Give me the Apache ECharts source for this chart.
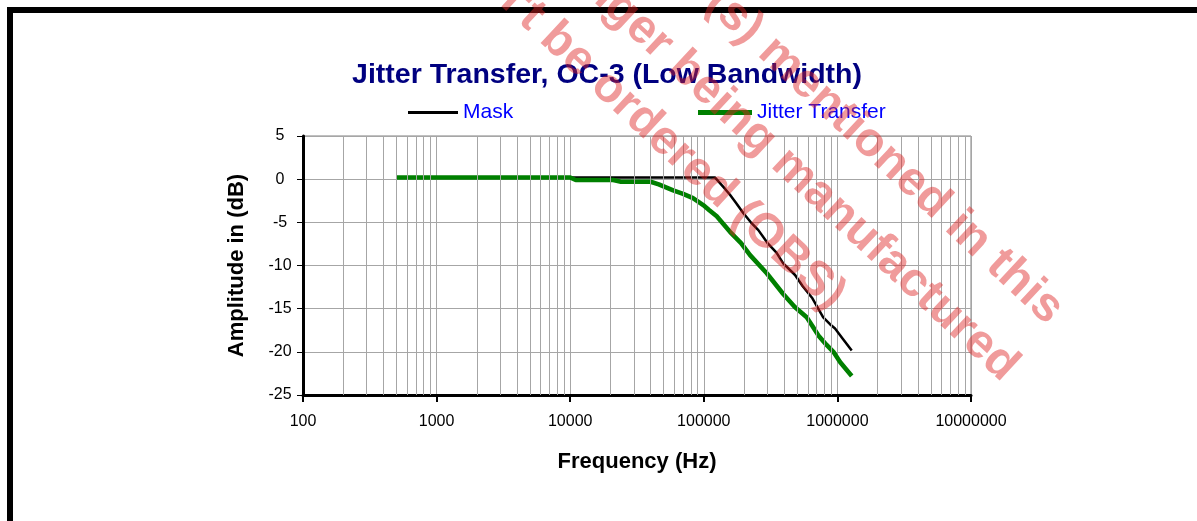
<!DOCTYPE html>
<html>
<head>
<meta charset="utf-8">
<title>Jitter Transfer, OC-3 (Low Bandwidth)</title>
<script src="https://cdn.jsdelivr.net/npm/echarts@6/dist/echarts.min.js"></script>
<style>
	html, body { margin: 0; padding: 0; background: #fff; }
	#chart { width: 1197px; height: 521px; }
</style>
</head>
<body>
<div id="chart"></div>
<script>
// values (Hz, dB)
var maskFreq = [500, 1000, 10000, 100000, 121000, 140000, 157000, 175000, 198000, 225000, 256000, 300000, 350000, 393000, 482000, 550000, 650000, 783000, 880000, 960000, 1100000, 1280000];
var maskDb = [0.2, 0.2, 0.2, 0.2, 0.2, -0.9, -1.8, -2.8, -3.95, -5.0, -5.9, -7.4, -8.5, -9.75, -11.1, -12.4, -13.8, -16.0, -16.8, -17.3, -18.5, -19.85];

var jitterFreq = [500, 1000, 2000, 5000, 10000, 11000, 15000, 21000, 24000, 30000, 40000, 46000, 59000, 70000, 83000, 99000, 110000, 125000, 157000, 190000, 222000, 296000, 393000, 480000, 589000, 650000, 720000, 830000, 933000, 1050000, 1280000];
var jitterDb = [0.2, 0.2, 0.2, 0.2, 0.2, -0.1, -0.1, -0.1, -0.3, -0.3, -0.3, -0.6, -1.3, -1.7, -2.2, -3.0, -3.6, -4.3, -6.1, -7.4, -8.8, -10.9, -13.3, -14.8, -16.0, -17.0, -18.1, -19.2, -20.0, -21.2, -22.8];

var xTickLabels = ['100', '1000', '10000', '100000', '1000000', '10000000'];
var yTickLabels = ['-25', '-20', '-15', '-10', '-5', '0', '5'];

// minor log grid: 2..9 inside every decade
var gridDecades = [100, 1000, 10000, 100000, 1000000];
var gridSteps = [2, 3, 4, 5, 6, 7, 8, 9];

var watermarkLines = [
	'Part number(s) mentioned in this',
	'document no longer being manufactured',
	'and can\'t be ordered (OBS)'
];

(function() {
	var FONT = '"Liberation Sans", Arial, sans-serif';

	function pairs(xs, ys) {
		return xs.map(function(x, i) { return [x, ys[i]]; });
	}

	var minorLines = [];
	gridDecades.forEach(function(d) {
		gridSteps.forEach(function(s) { minorLines.push({ xAxis: d * s }); });
	});

	var wmRot = -43 * Math.PI / 180;
	var wmAnchors = [[1056, 316], [1011, 373], [838, 302]];

	var graphics = [
		{ type: 'rect', shape: { x: 7, y: 7, width: 1190, height: 6 }, style: { fill: '#000' }, z: 50 },
		{ type: 'rect', shape: { x: 7, y: 7, width: 6, height: 514 }, style: { fill: '#000' }, z: 50 }
	];
	watermarkLines.forEach(function(t, i) {
		graphics.push({
			type: 'text', x: wmAnchors[i][0], y: wmAnchors[i][1], rotation: wmRot, z: 100, silent: true,
			style: {
				text: t, fill: 'rgba(222, 34, 34, 0.45)',
				fontSize: 48, fontWeight: 'bold', fontFamily: FONT,
				textAlign: 'right', textVerticalAlign: 'middle'
			}
		});
	});

	var legendText = { color: '#0000ff', fontSize: 21, fontFamily: FONT };

	var option = {
		animation: false,
		backgroundColor: '#fff',
		title: {
			text: 'Jitter Transfer, OC-3 (Low Bandwidth)',
			left: 602, top: 56, textAlign: 'center',
			textStyle: { color: '#000080', fontSize: 28.5, fontWeight: 'bold', fontFamily: FONT }
		},
		legend: [
			{ data: [{ name: 'Mask', icon: 'rect' }], left: 408, top: 102, padding: 0, itemWidth: 50, itemHeight: 3, itemGap: 5, textStyle: legendText, selectedMode: false },
			{ data: [{ name: 'Jitter Transfer', icon: 'rect' }], left: 698, top: 102, padding: 0, itemWidth: 54, itemHeight: 5, itemGap: 5, textStyle: legendText, selectedMode: false }
		],
		grid: {
			left: 303, top: 136, width: 668, height: 259,
			show: true, borderColor: '#808080', borderWidth: 1, backgroundColor: '#fff'
		},
		xAxis: {
			type: 'log', logBase: 10, min: 100, max: 10000000,
			name: 'Frequency (Hz)', nameLocation: 'middle', nameGap: 56,
			nameTextStyle: { color: '#000', fontSize: 22, fontWeight: 'bold', fontFamily: FONT },
			axisLine: { onZero: false, lineStyle: { color: '#000', width: 3 } },
			axisTick: { length: 7, lineStyle: { color: '#000', width: 2 } },
			axisLabel: {
				color: '#000', fontSize: 16, fontFamily: FONT, margin: 19,
				formatter: function(v, i) { return xTickLabels[i] || String(Math.round(v)); }
			},
			splitLine: { show: true, lineStyle: { color: '#a6a6a6', width: 1 } }
		},
		yAxis: {
			type: 'value', min: -25, max: 5, interval: 5,
			name: 'Amplitude in (dB)', nameLocation: 'middle', nameGap: 55,
			nameTextStyle: { color: '#000', fontSize: 22, fontWeight: 'bold', fontFamily: FONT },
			axisLine: { show: true, onZero: false, lineStyle: { color: '#000', width: 3 } },
			axisTick: { show: true, length: 6, lineStyle: { color: '#000', width: 1 } },
			axisLabel: {
				color: '#000', fontSize: 16, fontFamily: FONT, margin: 23, align: 'center',
				formatter: function(v, i) { return yTickLabels[i] || String(v); }
			},
			splitLine: { show: true, lineStyle: { color: '#a6a6a6', width: 1 } }
		},
		graphic: graphics,
		series: [
			{
				name: 'minor grid', type: 'line', data: [], z: 1, silent: true,
				markLine: {
					silent: true, symbol: 'none', animation: false,
					label: { show: false },
					lineStyle: { color: '#a6a6a6', width: 1, type: 'solid' },
					data: minorLines
				}
			},
			{
				name: 'Mask', type: 'line', data: pairs(maskFreq, maskDb), z: 3,
				showSymbol: false, symbol: 'none', color: '#000',
				lineStyle: { color: '#000', width: 2.5 }
			},
			{
				name: 'Jitter Transfer', type: 'line', data: pairs(jitterFreq, jitterDb), z: 4,
				showSymbol: false, symbol: 'none', color: '#008000',
				lineStyle: { color: '#008000', width: 4.5 }
			}
		]
	};

	var chart = echarts.init(document.getElementById('chart'), null, { renderer: 'canvas' });
	chart.setOption(option);
})();
</script>
</body>
</html>
